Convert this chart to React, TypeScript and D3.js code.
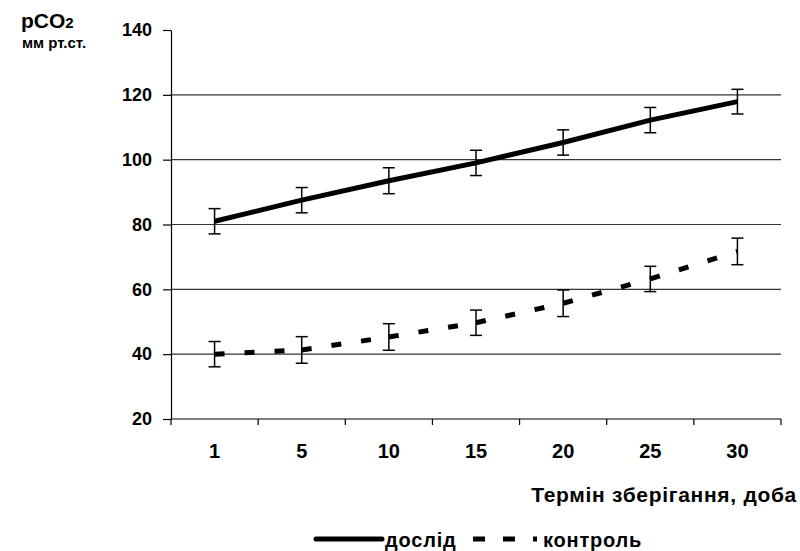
import * as d3 from 'd3';
import React, { useEffect, useRef } from 'react';

// storage term, days
const days = ['1', '5', '10', '15', '20', '25', '30'];
// pCO2, mm Hg
const doslid = [81, 87.5, 93.5, 99, 105.3, 112.2, 117.9];
const doslidErr = [3.9, 3.9, 4.0, 3.9, 3.9, 3.9, 3.8];
const kontrol = [40, 41.3, 45.3, 49.7, 55.7, 63.2, 71.7];
const kontrolErr = [3.9, 4.1, 4.1, 3.9, 4.1, 3.9, 4.1];
const yTicks = [20, 40, 60, 80, 100, 120, 140];

const FONT = '"Liberation Sans", Arial, sans-serif';

function Chart() {
    const ref = useRef<SVGSVGElement>(null);

    useEffect(() => {
        const svg = d3.select(ref.current);
        svg.selectAll('*').remove();

        const left = 171, right = 781, top = 30, bottom = 419;

        const x = d3.scaleBand().domain(days).range([left, right]).padding(0);
        const y = d3.scaleLinear().domain([20, 140]).range([bottom, top]);
        const cx = (d: string) => (x(d) as number) + x.bandwidth() / 2;

        // gridlines
        svg.append('g')
            .selectAll('line')
            .data(yTicks.filter(v => v > 20 && v < 140))
            .enter().append('line')
            .attr('x1', left).attr('x2', right)
            .attr('y1', d => y(d)).attr('y2', d => y(d))
            .attr('stroke', '#333').attr('stroke-width', 1.2);

        // y axis
        const yAxis = svg.append('g')
            .attr('transform', 'translate(' + left + ',0)')
            .call(d3.axisLeft(y).tickValues(yTicks).tickSize(8).tickSizeOuter(0).tickPadding(11));
        yAxis.select('.domain').attr('stroke', '#000').attr('stroke-width', 1.2);
        yAxis.selectAll('.tick line').attr('stroke', '#000').attr('stroke-width', 1.2);
        yAxis.selectAll('.tick text')
            .attr('font-family', FONT).attr('font-size', 18).attr('font-weight', 'bold').attr('fill', '#000');

        // x axis: line, ticks at category boundaries, labels at centres
        const xg = svg.append('g');
        xg.append('line')
            .attr('x1', left).attr('x2', right).attr('y1', bottom).attr('y2', bottom)
            .attr('stroke', '#000').attr('stroke-width', 1.2);
        const bounds = days.map(d => x(d) as number).concat([right]);
        xg.selectAll('.xt')
            .data(bounds)
            .enter().append('line')
            .attr('x1', d => d).attr('x2', d => d)
            .attr('y1', bottom).attr('y2', bottom + 6)
            .attr('stroke', '#000').attr('stroke-width', 1.2);
        xg.selectAll('text')
            .data(days)
            .enter().append('text')
            .attr('x', d => cx(d)).attr('y', 458)
            .attr('text-anchor', 'middle')
            .attr('font-family', FONT).attr('font-size', 20).attr('font-weight', 'bold')
            .text(d => d);

        // error bars
        const drawErr = (vals: number[], errs: number[]) => {
            const g = svg.append('g').attr('stroke', '#000').attr('stroke-width', 1.5);
            vals.forEach((v, i) => {
                const px = cx(days[i]);
                const y1 = y(v + errs[i]), y2 = y(v - errs[i]);
                g.append('line').attr('x1', px).attr('x2', px).attr('y1', y1).attr('y2', y2);
                g.append('line').attr('x1', px - 6).attr('x2', px + 6).attr('y1', y1).attr('y2', y1);
                g.append('line').attr('x1', px - 6).attr('x2', px + 6).attr('y1', y2).attr('y2', y2);
            });
        };
        drawErr(doslid, doslidErr);
        drawErr(kontrol, kontrolErr);

        // solid line (дослід)
        const line = d3.line<number>()
            .x((d, i) => cx(days[i]))
            .y(d => y(d));
        svg.append('path')
            .datum(doslid)
            .attr('d', line)
            .attr('fill', 'none')
            .attr('stroke', '#000')
            .attr('stroke-width', 5);

        // dashed line (контроль), dash pattern restarts on each segment
        svg.append('g')
            .selectAll('path')
            .data(d3.pairs(kontrol.map((v, i) => [cx(days[i]), y(v)] as [number, number])))
            .enter().append('path')
            .attr('d', d => d3.line()(d))
            .attr('fill', 'none')
            .attr('stroke', '#000')
            .attr('stroke-width', 5)
            .attr('stroke-dasharray', '10 20');

        // axis titles
        const yt = svg.append('text')
            .attr('x', 21).attr('y', 28)
            .attr('font-family', FONT).attr('font-weight', 'bold').attr('font-size', 21);
        yt.append('tspan').text('pCO');
        yt.append('tspan').attr('font-size', 15).text('2');
        svg.append('text')
            .attr('x', 22).attr('y', 48)
            .attr('font-family', FONT).attr('font-weight', 'bold').attr('font-size', 15)
            .text('мм рт.ст.');
        svg.append('text')
            .attr('x', 797).attr('y', 502)
            .attr('text-anchor', 'end')
            .attr('font-family', FONT).attr('font-weight', 'bold').attr('font-size', 21)
            .attr('letter-spacing', 0.7)
            .text('Термін зберігання, доба');

        // legend
        const lg = svg.append('g');
        lg.append('line')
            .attr('x1', 316).attr('x2', 382).attr('y1', 539).attr('y2', 539)
            .attr('stroke', '#000').attr('stroke-width', 5).attr('stroke-linecap', 'round');
        lg.append('text')
            .attr('x', 385).attr('y', 547)
            .attr('font-family', FONT).attr('font-weight', 'bold').attr('font-size', 20)
            .attr('letter-spacing', 0.8)
            .text('дослід');
        lg.append('line')
            .attr('x1', 473).attr('x2', 537).attr('y1', 539).attr('y2', 539)
            .attr('stroke', '#000').attr('stroke-width', 5).attr('stroke-dasharray', '12 18');
        lg.append('text')
            .attr('x', 543).attr('y', 547)
            .attr('font-family', FONT).attr('font-weight', 'bold').attr('font-size', 20)
            .attr('letter-spacing', 0.8)
            .text('контроль');
    }, []);

    return <svg ref={ref} width={800} height={551} style={{ display: 'block', background: '#fff' }} />;
}

export default function App() {
    return (
        <div style={{ position: 'absolute', left: 0, top: 0 }}>
            <Chart />
        </div>
    );
}
